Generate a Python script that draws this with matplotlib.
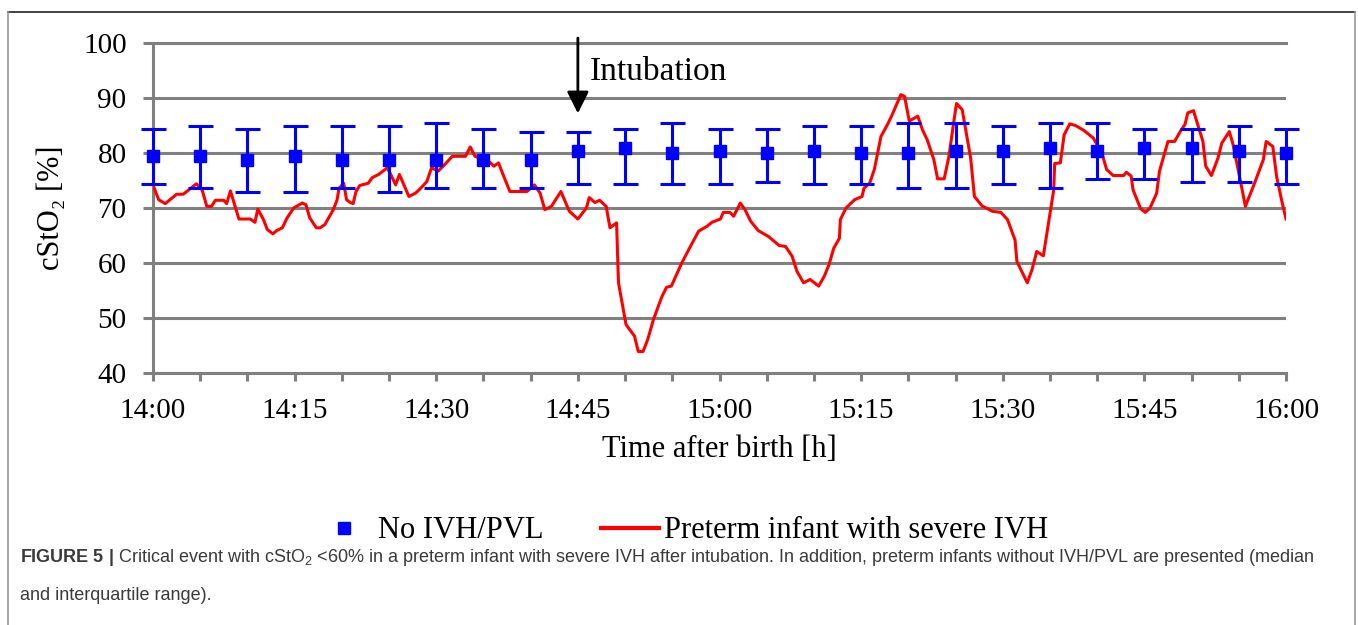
import matplotlib
matplotlib.use("Agg")
import matplotlib.pyplot as plt
from matplotlib.lines import Line2D
from matplotlib.ticker import MultipleLocator

# minutes after 14:00
tick_minutes = [0, 15, 30, 45, 60, 75, 90, 105, 120]
tick_labels = ["14:00", "14:15", "14:30", "14:45", "15:00", "15:15", "15:30", "15:45", "16:00"]

# No IVH/PVL group: median and interquartile range every 5 min
grp_t = [0, 5, 10, 15, 20, 25, 30, 35, 40, 45, 50, 55, 60,
         65, 70, 75, 80, 85, 90, 95, 100, 105, 110, 115, 120]
grp_med = [79.4, 79.4, 78.8, 79.4, 78.8, 78.8, 78.8, 78.8, 78.8, 80.4, 81.0, 80.0, 80.4,
           80.0, 80.4, 80.0, 80.0, 80.4, 80.4, 81.0, 80.4, 81.0, 81.0, 80.4, 80.0]
grp_q3 = [84.4, 84.9, 84.4, 84.9, 84.9, 84.9, 85.5, 84.4, 83.8, 83.8, 84.4, 85.5, 84.4,
          84.4, 84.9, 84.9, 85.5, 85.5, 84.9, 85.5, 85.5, 84.4, 84.4, 84.9, 84.4]
grp_q1 = [74.3, 73.7, 73.0, 73.0, 73.7, 73.0, 73.7, 73.7, 73.7, 74.3, 74.3, 74.3, 74.3,
          74.8, 74.3, 74.3, 73.7, 73.7, 74.3, 73.7, 75.3, 75.3, 74.8, 74.8, 74.3]

# preterm infant with severe IVH
red_t = [0.0, 0.6, 1.3, 2.5, 3.2, 4.6, 5.2, 5.7, 6.2, 6.6, 7.5, 7.8, 8.2, 9.1, 10.3,
         10.8, 11.1, 11.7, 12.1, 12.7, 13.1, 13.7, 14.2, 14.9, 15.8, 16.2, 16.6, 17.3,
         17.7, 18.2, 19.1, 19.5, 19.7, 20.2, 20.5, 20.9, 21.2, 21.5, 21.9, 22.8, 23.2,
         23.9, 24.8, 25.1, 25.7, 26.1, 26.5, 27.1, 27.8, 28.3, 29.0, 29.5, 30.2, 30.9,
         31.7, 33.1, 33.6, 34.1, 35.7, 36.1, 36.6, 37.0, 37.8, 39.6, 40.4, 41.0, 41.5,
         42.2, 43.2, 44.1, 45.0, 45.9, 46.2, 46.8, 47.3, 48.0, 48.4, 49.1, 49.3, 50.1,
         51.0, 51.4, 51.9, 52.4, 53.0, 53.9, 54.4, 54.9, 56.0, 57.1, 57.8, 58.7, 59.2,
         60.1, 60.4, 61.1, 61.5, 62.2, 62.7, 63.3, 64.1, 65.2, 66.3, 67.0, 67.7, 68.2,
         68.9, 69.6, 70.5, 71.1, 71.6, 72.1, 72.7, 72.8, 73.4, 74.3, 75.1, 75.3, 75.9,
         76.4, 77.1, 77.8, 78.3, 79.2, 79.6, 80.1, 81.0, 81.5, 82.0, 82.7, 83.1, 83.8,
         84.3, 84.8, 85.1, 85.7, 86.6, 87.0, 87.8, 88.9, 89.8, 90.5, 91.3, 91.5, 92.0,
         92.6, 93.1, 93.6, 94.3, 94.9, 95.4, 95.5, 96.1, 96.5, 97.1, 97.7, 98.6, 99.6,
         100.5, 101.0, 101.7, 102.8, 103.1, 103.6, 103.8, 104.6, 105.1, 105.6, 106.3,
         106.6, 107.5, 108.2, 108.8, 109.3, 109.6, 110.2, 111.2, 111.5, 112.1, 112.8,
         113.2, 114.0, 114.4, 115.0, 115.7, 116.6, 117.6, 117.9, 118.6, 119.0, 119.6, 120.0]
red_v = [74.2, 71.5, 70.8, 72.5, 72.5, 74.4, 73.3, 70.3, 70.3, 71.4, 71.4, 70.8, 73.1, 68.0, 68.0,
         67.4, 69.8, 67.9, 66.1, 65.3, 65.9, 66.4, 68.2, 70.0, 70.9, 70.6, 68.2, 66.4,
         66.4, 67.0, 69.7, 71.5, 73.6, 74.5, 71.5, 71.0, 70.8, 73.0, 74.1, 74.5, 75.5,
         76.1, 77.3, 76.4, 74.2, 76.1, 74.5, 72.1, 72.7, 73.5, 74.8, 77.3, 76.7, 77.9,
         79.4, 79.4, 81.1, 79.4, 78.3, 77.6, 78.2, 76.4, 73.0, 73.0, 74.2, 72.7, 69.7,
         70.3, 73.0, 69.4, 68.0, 70.0, 71.9, 71.0, 71.4, 70.3, 66.4, 67.3, 56.4, 48.8,
         46.7, 43.9, 43.9, 46.1, 49.7, 53.9, 55.6, 55.8, 60.0, 63.6, 65.8, 66.7, 67.4,
         68.0, 69.2, 69.2, 68.5, 70.9, 69.7, 67.6, 65.9, 64.8, 63.2, 63.0, 61.2, 58.5,
         56.4, 57.0, 55.8, 57.6, 59.7, 62.7, 64.5, 67.9, 70.0, 71.5, 72.1, 73.6, 74.5,
         77.0, 83.0, 85.2, 87.0, 90.6, 90.3, 85.8, 86.7, 84.2, 82.4, 78.8, 75.3, 75.3,
         79.4, 85.5, 89.0, 87.9, 79.1, 72.1, 70.4, 69.4, 69.2, 67.9, 64.2, 60.3, 58.5,
         56.4, 58.8, 62.1, 61.3, 67.9, 73.3, 78.1, 78.2, 83.3, 85.3, 85.0, 84.1, 82.7,
         80.0, 77.0, 75.9, 75.9, 76.5, 75.8, 73.3, 69.9, 69.2, 70.0, 72.7,
         76.7, 82.1, 82.1, 83.9, 85.2, 87.3, 87.7, 82.1, 77.6, 75.9, 79.1,
         81.8, 83.9, 81.5, 76.4, 70.3, 74.2, 78.8, 82.1, 81.2, 75.8, 70.9, 68.0]

serif = ["Liberation Serif", "DejaVu Serif"]
plt.rcParams["font.family"] = serif
plt.rcParams["mathtext.fontset"] = "custom"
plt.rcParams["mathtext.rm"] = "Liberation Sans"
plt.rcParams["mathtext.bf"] = "Liberation Sans:bold"
plt.rcParams["mathtext.it"] = "Liberation Sans:italic"

grey = "#808080"
blue = "#0000ff"
red = "#ff0000"

fig = plt.figure(figsize=(13.58, 6.25), dpi=100)
ax = fig.add_axes([153 / 1358, 1 - 373 / 625, (1286 - 153) / 1358, (373 - 43) / 625])

# group median + IQR
yerr = [[m - lo for m, lo in zip(grp_med, grp_q1)], [hi - m for m, hi in zip(grp_med, grp_q3)]]
ax.errorbar(grp_t, grp_med, yerr=yerr, fmt="s", color=blue, ecolor=blue,
            markersize=9, elinewidth=2.2, capsize=9, capthick=2.2, zorder=4, clip_on=False)

ax.plot(red_t, red_v, color=red, lw=2.2, zorder=3)

ax.set_xlim(0, 120)
ax.set_ylim(40, 100)
ax.set_xticks(tick_minutes)
ax.set_xticklabels(tick_labels)
ax.xaxis.set_minor_locator(MultipleLocator(5))
ax.yaxis.set_major_locator(MultipleLocator(10))

ax.grid(axis="y", color=grey, lw=2.2, zorder=1)
for s in ["left", "bottom", "top"]:
    ax.spines[s].set_color(grey)
    ax.spines[s].set_linewidth(2.2)
ax.spines["right"].set_visible(False)
ax.tick_params(axis="both", which="both", direction="out", color=grey, width=2.2,
               labelsize=21, labelcolor="black")
ax.tick_params(axis="x", which="both", length=6, pad=12)
ax.tick_params(axis="y", length=7, pad=12)

ax.set_xlabel("Time after birth [h]", fontsize=22, labelpad=8)
ax.set_ylabel("cStO\u2082 [%]", fontsize=22, labelpad=12)

# intubation marker
ax.annotate("", xy=(45, 87.2), xytext=(45, 100.9), annotation_clip=False,
            arrowprops=dict(arrowstyle="-|>", color="black", lw=2, mutation_scale=33,
                            shrinkA=0, shrinkB=0))
ax.text(46.3, 94.7, "Intubation", fontsize=24, va="center", ha="left")

handles = [Line2D([], [], marker="s", color=blue, ls="none", markersize=9),
           Line2D([], [], color=red, lw=3)]
fig.legend(handles, ["No IVH/PVL", "Preterm infant with severe IVH"],
           loc="center", bbox_to_anchor=(0.502, 1 - 531 / 625), ncol=2, frameon=False,
           fontsize=22, handlelength=1.9, handletextpad=0.15, columnspacing=1.9)

# caption
fig.text(20 / 1358, 1 - 557 / 625,
         r"$\mathbf{FIGURE\ 5\ |}$ Critical event with cStO$_2$ <60% in a preterm infant with severe IVH "
         "after intubation. In addition, preterm infants without IVH/PVL are presented (median",
         family="Liberation Sans", fontsize=13.0, color="#3a3a3a", va="center")
fig.text(20 / 1358, 1 - 595 / 625, "and interquartile range).",
         family="Liberation Sans", fontsize=13.0, color="#3a3a3a", va="center")

# frame
fig.add_artist(Line2D([8 / 1358, 1355 / 1358], [1 - 12 / 625] * 2, color="#222222", lw=1.2))
fig.add_artist(Line2D([8 / 1358] * 2, [1 - 12 / 625, 0], color="#9a9a9a", lw=1.2))
fig.add_artist(Line2D([1355 / 1358] * 2, [1 - 12 / 625, 0], color="#9a9a9a", lw=1.2))

fig.savefig("out.png", dpi=100)
